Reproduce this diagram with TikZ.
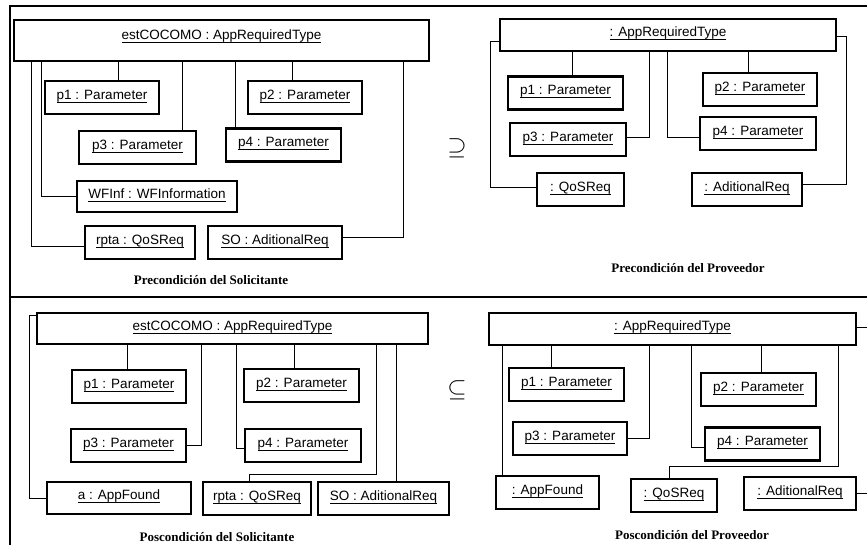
\documentclass[tikz,border=0pt]{standalone}
\usepackage{fontspec}
\setmainfont{Liberation Serif}
\setsansfont{Liberation Sans}
\usetikzlibrary{positioning}

\newcommand{\objn}[1]{\underline{\smash{#1}\rule[-1.5pt]{0pt}{0pt}}}

\begin{document}
\begin{tikzpicture}[x=1pt,y=-1pt,
    objbox/.style={draw,line width=2.8pt,inner sep=0pt,minimum height=33pt,
                   text height=9.5pt,text depth=6pt,font=\sffamily\fontsize{13.5}{15}\selectfont},
    link/.style={line width=1pt},
    panelline/.style={line width=1.8pt},
    paneltitle/.style={font=\rmfamily\bfseries\fontsize{13}{15}\selectfont}]
    \useasboundingbox (0,0) rectangle (867,545);

    \draw[panelline] (867,6) -- (10,6) -- (10,545);
    \draw[panelline] (10,297) -- (867,297);

    \node[objbox,minimum width=415pt,minimum height=41pt,text depth=11pt] (tlmain) at (221.5,40.5) {\objn{estCOCOMO : AppRequiredType}};
    \node[objbox,minimum width=114pt] (tlp1)   at (102,97.5)   {\objn{p1 : Parameter}};
    \node[objbox,minimum width=114pt] (tlp2)   at (305,97.5)   {\objn{p2 : Parameter}};
    \node[objbox,minimum width=117pt] (tlp3)   at (137.5,147.5) {\objn{p3 : Parameter}};
    \node[objbox,minimum width=115pt] (tlp4)   at (283.5,145)  {\objn{p4 : Parameter}};
    \node[objbox,minimum width=160pt,minimum height=31pt] (tlwf) at (157,196.5) {\objn{WFInf : WFInformation}};
    \node[objbox,minimum width=110pt] (tlrpta) at (140,242.5)  {\objn{rpta : QoSReq}};
    \node[objbox,minimum width=134pt] (tlso)   at (275,242.5)  {\objn{SO : AditionalReq}};
    \node[paneltitle] (tltitle) at (211,280) {Precondición del Solicitante};

    \draw[link] ([xshift=16pt]tlp1.north) -- ([xshift=16pt]tlp1.north |- tlmain.south);
    \draw[link] ([xshift=-13pt]tlp2.north) -- ([xshift=-13pt]tlp2.north |- tlmain.south);
    \draw[link] ([xshift=44.5pt]tlp3.north) -- ([xshift=44.5pt]tlp3.north |- tlmain.south);
    \draw[link] ([xshift=-48.5pt]tlp4.north) -- ([xshift=-48.5pt]tlp4.north |- tlmain.south);
    \draw[link] (tlwf.west) -| ([xshift=29pt]tlmain.south west);
    \draw[link] ([yshift=-4.5pt]tlrpta.west) -| ([xshift=19pt]tlmain.south west);
    \draw[link] ([yshift=4.5pt]tlso.east) -| ([xshift=-27pt]tlmain.south east);

    \node (supset) at (457,148) {\fontsize{28}{28}\selectfont$\supseteq$};

    \node[objbox,minimum width=336pt,minimum height=32pt] (trmain) at (668,35) {\objn{: AppRequiredType}};
    \node[objbox,minimum width=115pt] (trp1)  at (565.5,93)    {\objn{p1 : Parameter}};
    \node[objbox,minimum width=114pt] (trp2)  at (760,89.5)    {\objn{p2 : Parameter}};
    \node[objbox,minimum width=116pt] (trp3)  at (568,139.5)   {\objn{p3 : Parameter}};
    \node[objbox,minimum width=116pt] (trp4)  at (758,133.5)   {\objn{p4 : Parameter}};
    \node[objbox,minimum width=87pt]  (trqos) at (580.5,189.5) {\objn{: QoSReq}};
    \node[objbox,minimum width=110pt] (tradd) at (747,189.5)   {\objn{: AditionalReq}};
    \node[paneltitle] (trtitle) at (688,268) {Precondición del Proveedor};

    \draw[link] ([xshift=6.5pt]trp1.north) -- ([xshift=6.5pt]trp1.north |- trmain.south);
    \draw[link] ([xshift=-12pt]trp2.north) -- ([xshift=-12pt]trp2.north |- trmain.south);
    \draw[link] ([yshift=1.5pt]trp3.east) -| ([xshift=-19pt]trmain.south);
    \draw[link] ([yshift=-4.5pt]trp4.west) -| ([xshift=-1pt]trmain.south);
    \draw[link] ([yshift=-7pt]trmain.west) -- ++(-8pt,0) |- ([yshift=1.5pt]trqos.west);
    \draw[link] ([yshift=-2pt]trmain.east) -- ++(9pt,0) |- ([yshift=4.5pt]tradd.east);

    \node[objbox,minimum width=391pt,minimum height=31pt] (blmain) at (232.5,328.5) {\objn{estCOCOMO : AppRequiredType}};
    \node[objbox,minimum width=114pt] (blp1)   at (129,386.5)   {\objn{p1 : Parameter}};
    \node[objbox,minimum width=115pt] (blp2)   at (301.5,385.5) {\objn{p2 : Parameter}};
    \node[objbox,minimum width=115pt] (blp3)   at (128.5,445.5) {\objn{p3 : Parameter}};
    \node[objbox,minimum width=116pt] (blp4)   at (303,445.5)   {\objn{p4 : Parameter}};
    \node[objbox,minimum width=144pt,minimum height=32pt] (blapp) at (119,498) {\objn{a : AppFound}};
    \node[objbox,minimum width=108pt] (blrpta) at (257,498.5)   {\objn{rpta : QoSReq}};
    \node[objbox,minimum width=131pt] (blso)   at (383.5,498.5) {\objn{SO : AditionalReq}};
    \node[paneltitle] (bltitle) at (217,537) {Poscondición del Solicitante};

    \draw[link] ([xshift=-2pt]blp1.north) -- ([xshift=-2pt]blp1.north |- blmain.south);
    \draw[link] ([xshift=-7.5pt]blp2.north) -- ([xshift=-7.5pt]blp2.north |- blmain.south);
    \draw[link] (blp3.east) -| ([xshift=-31.5pt]blmain.south);
    \draw[link] ([yshift=-2.5pt]blp4.west) -| ([xshift=3.5pt]blmain.south);
    \draw[link] ([yshift=13.5pt]blmain.west) -- ++(-6pt,0) |- (blapp.west);
    \draw[link] ([xshift=-8pt]blrpta.north) -- ++(0,-6) -| ([xshift=143.5pt]blmain.south);
    \draw[link] ([xshift=12.5pt]blso.north) -- ([xshift=12.5pt]blso.north |- blmain.south);

    \node (subset) at (457,390) {\fontsize{28}{28}\selectfont$\subseteq$};

    \node[objbox,minimum width=367pt,minimum height=32pt] (brmain) at (672.5,329) {\objn{: AppRequiredType}};
    \node[objbox,minimum width=115pt] (brp1)  at (566.5,384.5) {\objn{p1 : Parameter}};
    \node[objbox,minimum width=115pt] (brp2)  at (758.5,389.5) {\objn{p2 : Parameter}};
    \node[objbox,minimum width=114pt] (brp3)  at (570,438.5)   {\objn{p3 : Parameter}};
    \node[objbox,minimum width=115pt] (brp4)  at (762.5,444)   {\objn{p4 : Parameter}};
    \node[objbox,minimum width=103pt] (brapp) at (547.5,492.5) {\objn{: AppFound}};
    \node[objbox,minimum width=86pt]  (brqos) at (674,495.5)   {\objn{: QoSReq}};
    \node[objbox,minimum width=112pt] (bradd) at (800,493.5)   {\objn{: AditionalReq}};
    \node[paneltitle] (brtitle) at (692,535) {Poscondición del Proveedor};

    \draw[link] ([xshift=-15.5pt]brp1.north) -- ([xshift=-15.5pt]brp1.north |- brmain.south);
    \draw[link] ([xshift=2.5pt]brp2.north) -- ([xshift=2.5pt]brp2.north |- brmain.south);
    \draw[link] (brp3.east) -| ([xshift=-23.5pt]brmain.south);
    \draw[link] ([yshift=-3pt]brp4.west) -| ([xshift=18.5pt]brmain.south);
    \draw[link] ([xshift=-45.5pt]brapp.north) -- ([xshift=-45.5pt]brapp.north |- brmain.south);
    \draw[link] ([xshift=-5pt]brqos.north) -- ++(0,-11) -| ([xshift=165.5pt]brmain.south);
    \draw[link] ([yshift=2pt]brmain.east) -- ++(12pt,0);
    \draw[link] (bradd.east) -- ++(12pt,0);
\end{tikzpicture}
\end{document}
